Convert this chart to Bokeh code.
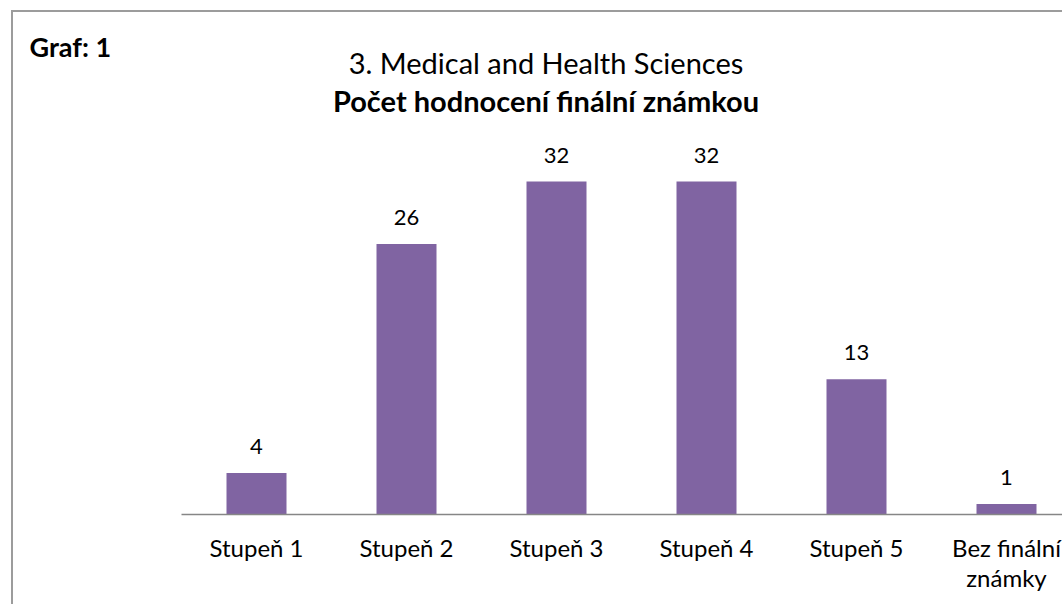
from bokeh.plotting import figure
from bokeh.models import Range1d, FixedTicker, Label, LabelSet, ColumnDataSource
from bokeh.core.properties import value
from bokeh.embed import file_html
from bokeh.resources import INLINE

categories = ["Stupeň 1", "Stupeň 2", "Stupeň 3", "Stupeň 4", "Stupeň 5", "Bez finální\nznámky"]
values = [4, 26, 32, 32, 13, 1]
chart_tag = "Graf: 1"
title_1 = "3. Medical and Health Sciences"
title_2 = "Počet hodnocení finální známkou"

BAR = "#8064A2"
FONT = "Lato"
BORDER = "#9c9c9c"
W, H = 1062, 604
PX_PER_CAT = 150.0      # horizontal pixels per category
PX_PER_UNIT = 10.406    # vertical pixels per count unit
AXIS_LEFT = 181         # canvas x where the category axis starts
BASE_Y = 514            # canvas y of the baseline

p = figure(width=W, height=H, output_backend="svg", toolbar_location=None,
           x_range=Range1d(-0.5 - AXIS_LEFT / PX_PER_CAT, -0.5 + (W - AXIS_LEFT) / PX_PER_CAT),
           y_range=Range1d(0, BASE_Y / PX_PER_UNIT),
           min_border_left=0, min_border_right=0, min_border_top=0, min_border_bottom=H - BASE_Y,
           y_axis_location=None,
           styles={"background": (f"linear-gradient({BORDER},{BORDER}) 11px 10px / 2px 100% no-repeat, "
                                  f"linear-gradient({BORDER},{BORDER}) 11px 10px / 100% 2px no-repeat, white")})
p.outline_line_color = None
p.xgrid.visible = False
p.ygrid.visible = False
p.background_fill_alpha = 0
p.border_fill_alpha = 0

pos = list(range(len(categories)))
src = ColumnDataSource(dict(x=pos, top=values, lab=[str(v) for v in values]))
p.vbar(x="x", top="top", width=0.4, source=src, fill_color=BAR, line_color=None)

p.add_layout(LabelSet(x="x", y="top", text="lab", source=src, text_align="center",
                      text_baseline="alphabetic", y_offset=19, text_font=value(FONT),
                      text_font_size=value("22px"), text_color="black"))

ax = p.xaxis[0]
ax.ticker = FixedTicker(ticks=pos)
ax.bounds = (-0.5, -0.5 + (W - AXIS_LEFT) / PX_PER_CAT)
ax.major_label_overrides = {i: c for i, c in enumerate(categories)}
ax.major_tick_line_color = None
ax.minor_tick_line_color = None
ax.major_tick_out = 0
ax.major_tick_in = 0
ax.axis_line_color = "#868686"
ax.axis_line_width = 1.5
ax.major_label_text_font = FONT
ax.major_label_text_font_size = "24px"
ax.major_label_text_color = "black"
ax.major_label_standoff = 18
ax.major_label_text_line_height = 1.06

for txt, x, y, style, align, size in [(chart_tag, 29, 46, "bold", "left", "27px"),
                                      (title_1, 545.5, 62, "normal", "center", "29px"),
                                      (title_2, 545.5, 100, "bold", "center", "29px")]:
    p.add_layout(Label(x=x, y=y, x_units="canvas", y_units="canvas", text=txt,
                       text_font=FONT, text_font_style=style, text_font_size=size,
                       text_baseline="alphabetic", text_align=align, text_color="black"))

open("out.html", "w").write(file_html(p, INLINE))
